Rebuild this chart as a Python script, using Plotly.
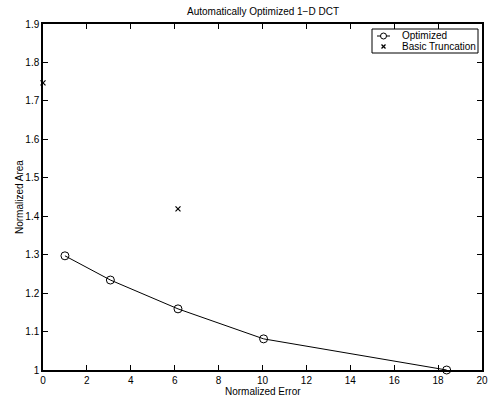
import plotly.graph_objects as go

opt_x = [1.0, 3.07, 6.15, 10.05, 18.39]
opt_y = [1.297, 1.234, 1.159, 1.081, 1.0]
basic_x = [0.0, 6.15]
basic_y = [1.747, 1.419]

x_ticks = [0, 2, 4, 6, 8, 10, 12, 14, 16, 18, 20]
y_ticks = [1, 1.1, 1.2, 1.3, 1.4, 1.5, 1.6, 1.7, 1.8, 1.9]
y_tick_text = ["1", "1.1", "1.2", "1.3", "1.4", "1.5", "1.6", "1.7", "1.8", "1.9"]

W, H = 488, 399
L, R, T, B = 43, 6, 24, 29
PW, PH = W - L - R, H - T - B


def px(x):
    return (x - L) / PW


def py(y):
    return (H - B - y) / PH


font = "Liberation Sans, Arial, Helvetica, sans-serif"

fig = go.Figure()
fig.add_trace(go.Scatter(
    x=opt_x, y=opt_y, mode="lines+markers", name="Optimized",
    line=dict(color="black", width=1),
    marker=dict(symbol="circle-open", size=8, color="black", line=dict(width=1)),
    cliponaxis=False, showlegend=False,
))
fig.add_trace(go.Scatter(
    x=basic_x, y=basic_y, mode="markers", name="Basic Truncation",
    marker=dict(symbol="x-thin-open", size=5, color="black", line=dict(width=1.2, color="black")),
    cliponaxis=False, showlegend=False,
))

shapes = [
    # legend box
    dict(type="rect", xref="paper", yref="paper", x0=px(372), x1=px(478), y0=py(29), y1=py(53),
         line=dict(color="black", width=1), fillcolor="white", layer="above"),
    # optimized sample line
    dict(type="line", xref="paper", yref="paper", x0=px(377), x1=px(390), y0=py(36), y1=py(36),
         line=dict(color="black", width=1), layer="above"),
    dict(type="circle", xref="paper", yref="paper", x0=px(380.5), x1=px(386.5), y0=py(33), y1=py(39),
         line=dict(color="black", width=1), fillcolor="white", layer="above"),
    # basic truncation sample x
    dict(type="line", xref="paper", yref="paper", x0=px(381.5), x1=px(385.5), y0=py(44.5), y1=py(48.5),
         line=dict(color="black", width=1.2), layer="above"),
    dict(type="line", xref="paper", yref="paper", x0=px(381.5), x1=px(385.5), y0=py(48.5), y1=py(44.5),
         line=dict(color="black", width=1.2), layer="above"),
]

annotations = [
    dict(text="Optimized", xref="paper", yref="paper", x=px(400), y=py(36),
         xanchor="left", yanchor="middle", showarrow=False, font=dict(size=10)),
    dict(text="Basic Truncation", xref="paper", yref="paper", x=px(400), y=py(46.5),
         xanchor="left", yanchor="middle", showarrow=False, font=dict(size=10)),
    dict(text="Normalized Error", xref="paper", yref="paper", x=px(262.5), y=py(391),
         xanchor="center", yanchor="middle", showarrow=False, font=dict(size=10)),
    dict(text="Normalized Area", xref="paper", yref="paper", x=px(19), y=py(197),
         xanchor="center", yanchor="middle", showarrow=False, textangle=-90, font=dict(size=10)),
    dict(text="Automatically Optimized 1\u2212D DCT", xref="paper", yref="paper", x=px(262.5), y=py(12),
         xanchor="center", yanchor="middle", showarrow=False, font=dict(size=10)),
]

fig.update_layout(
    width=W, height=H,
    margin=dict(l=L, r=R, t=T, b=B, autoexpand=False),
    paper_bgcolor="white", plot_bgcolor="white",
    font=dict(family=font, size=10, color="black"),
    showlegend=False,
    shapes=shapes,
    annotations=annotations,
)
fig.update_xaxes(
    range=[0, 20], tickvals=x_ticks, ticks="inside", ticklen=5, tickcolor="black",
    showline=True, linecolor="black", linewidth=1.5, mirror="allticks",
    showgrid=False, zeroline=False, automargin=False,
)
fig.update_yaxes(
    range=[1, 1.9], tickvals=y_ticks, ticktext=y_tick_text, ticks="inside", ticklen=5, tickcolor="black",
    showline=True, linecolor="black", linewidth=1.5, mirror="allticks",
    showgrid=False, zeroline=False, automargin=False,
)

fig.write_html(
    "out.html",
    config={"displayModeBar": False},
    post_script="document.body.style.margin='0';document.body.style.padding='0';document.body.style.overflow='hidden';",
)
